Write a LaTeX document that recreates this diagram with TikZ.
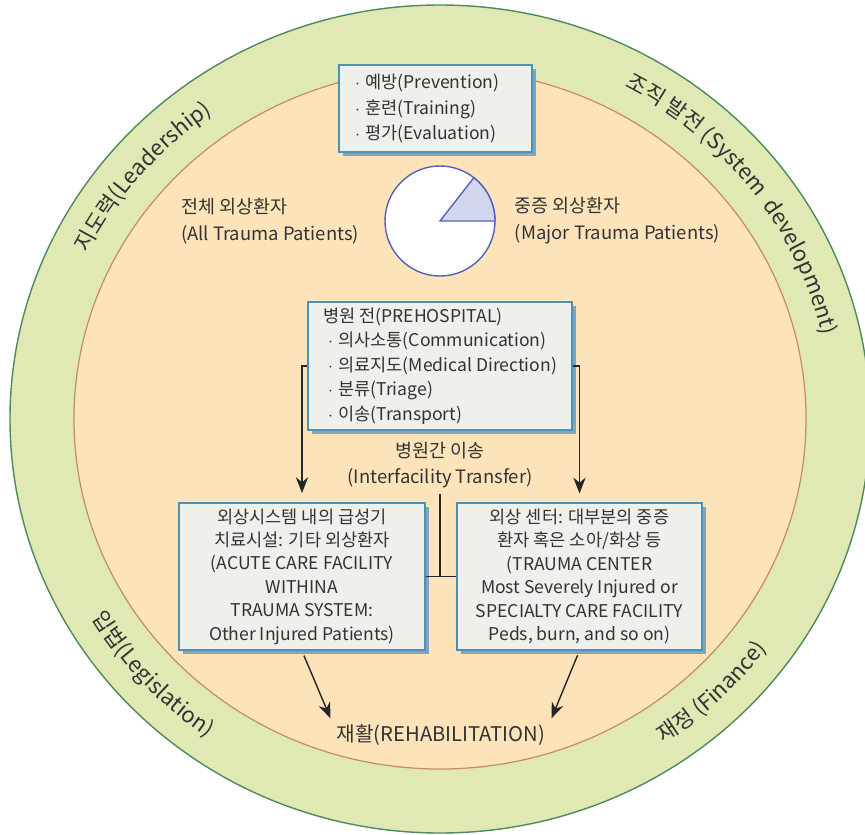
\documentclass[tikz,border=0pt]{standalone}
\usepackage{fontspec}
\setmainfont{Noto Sans CJK KR}
\usetikzlibrary{arrows.meta,positioning,shadows,decorations.text}

\definecolor{ringgreen}{HTML}{E0E8B4}
\definecolor{ringedge}{HTML}{4F8A5B}
\definecolor{coreorange}{HTML}{FDE3B9}
\definecolor{coreedge}{HTML}{C68E60}
\definecolor{boxfill}{HTML}{EEF0EC}
\definecolor{boxedge}{HTML}{4A93B6}
\definecolor{boxshade}{HTML}{7FA6BE}
\definecolor{pieedge}{HTML}{5261BE}
\definecolor{pieslice}{HTML}{D3D6EE}
\definecolor{ink}{HTML}{333333}
\newcommand{\ringfont}{\fontsize{12.5}{15}\selectfont\color{ink}}
\newcommand{\bul}{$\cdot$\hspace{3pt}}

\begin{document}
\begin{tikzpicture}[
  >=Stealth,
  every node/.style={text=ink},
  box/.style={draw=boxedge, line width=0.9pt, fill=boxfill,
    drop shadow={shadow xshift=0.08cm, shadow yshift=-0.08cm, fill=boxshade, opacity=1}},
  flow/.style={->, line width=0.8pt, draw=black!85, >={Stealth[length=9pt, width=7pt]}},
  note/.style={align=left, font=\fontsize{10.5}{15.3}\selectfont},
  boxtext/.style={font=\fontsize{10}{13.3}\selectfont},
  ringtext/.style={decorate, decoration={text along path, text align=center, text={|\ringfont|#1}}}
]
  \useasboundingbox (-8.8,-8.3) rectangle (8.5,8.38);
  \clip (-8.8,-8.3) rectangle (8.5,8.38);

  % rings
  \draw[ringedge, fill=ringgreen, line width=0.8pt] (0,0) ellipse[x radius=8.6, y radius=8.28];
  \draw[coreedge, fill=coreorange, line width=0.7pt] (0,0) ellipse[x radius=7.32, y radius=7.0];

  \path[ringtext={지도력(Leadership)}] (175:7.84 and 7.52) arc[start angle=175, end angle=105, x radius=7.84, y radius=7.52];
  \path[ringtext={조직 발전{\ }(System{\ } development)}] (82:7.84 and 7.52) arc[start angle=82, end angle=-8, x radius=7.84, y radius=7.52];
  \path[ringtext={입법(Legislation)}] (190:8.1 and 7.78) arc[start angle=190, end angle=255, x radius=8.1, y radius=7.78];
  \path[ringtext={재정 (Finance)}] (-80:8.1 and 7.78) arc[start angle=-80, end angle=-12, x radius=8.1, y radius=7.78];

  % top box and pie
  \node[box, font=\fontsize{10}{14.7}\selectfont, minimum height=1.74cm, text width=3.22cm, inner xsep=0.32cm, align=left] (goals) at (-0.09,6.21)
    {\bul 예방(Prevention)\\\bul 훈련(Training)\\\bul 평가(Evaluation)};

  \node[circle, draw=pieedge, line width=0.8pt, fill=white, minimum size=2.2cm, inner sep=0pt] (pie) at (0,3.96) {};
  \filldraw[fill=pieslice, draw=pieedge, line width=0.8pt] (pie.center) -- ++(0:1.1) arc[start angle=0, end angle=52, radius=1.1] -- cycle;

  \node[note, left=0.38cm of pie] (all) {전체 외상환자\\(All Trauma Patients)};
  \node[note, right=0.26cm of pie] (major) {중증 외상환자\\(Major Trauma Patients)};

  % flow
  \node[box, font=\fontsize{10}{13.9}\selectfont, minimum width=5.2cm, minimum height=2.44cm, inner xsep=0.3cm, align=left] (pre) at (0,1.06)
    {병원 전(PREHOSPITAL)\\
     \hspace*{0.1cm}\bul 의사소통(Communication)\\
     \hspace*{0.1cm}\bul 의료지도(Medical Direction)\\
     \hspace*{0.1cm}\bul 분류(Triage)\\
     \hspace*{0.1cm}\bul 이송(Transport)};

  \node[note, align=center] (xfer) at (0,-0.92) {병원간 이송\\(Interfacility Transfer)};

  \node[box, boxtext, minimum width=4.92cm, minimum height=2.9cm, align=center] (acute) at (-2.76,-3.15)
    {외상시스템 내의 급성기\\치료시설: 기타 외상환자\\(ACUTE CARE FACILITY\\WITHINA\\TRAUMA SYSTEM:\\Other Injured Patients)};
  \node[box, boxtext, minimum width=4.9cm, minimum height=2.9cm, align=center] (trauma) at (2.79,-3.15)
    {외상 센터: 대부분의 중증\\환자 혹은 소아/화상 등\\(TRAUMA CENTER\\Most Severely Injured or\\SPECIALTY CARE FACILITY\\Peds, burn, and so on)};

  \node[note, font=\fontsize{11.5}{14}\selectfont] (rehab) at (0.02,-6.32) {재활(REHABILITATION)};

  \draw[flow, shorten >=0.18cm] (pre.west) -| (acute.north);
  \draw[flow, shorten >=0.18cm] (pre.east) -| (trauma.north);
  \draw[line width=0.8pt, black!85] (acute.east) -- (trauma.west);
  \draw[line width=0.8pt, black!85] (xfer.south) -- (xfer.south |- acute.east);
  \draw[flow, shorten <=0.1cm] (acute.south) -- (rehab.north west);
  \draw[flow, shorten <=0.1cm] (trauma.south) -- (rehab.north east);
\end{tikzpicture}
\end{document}
